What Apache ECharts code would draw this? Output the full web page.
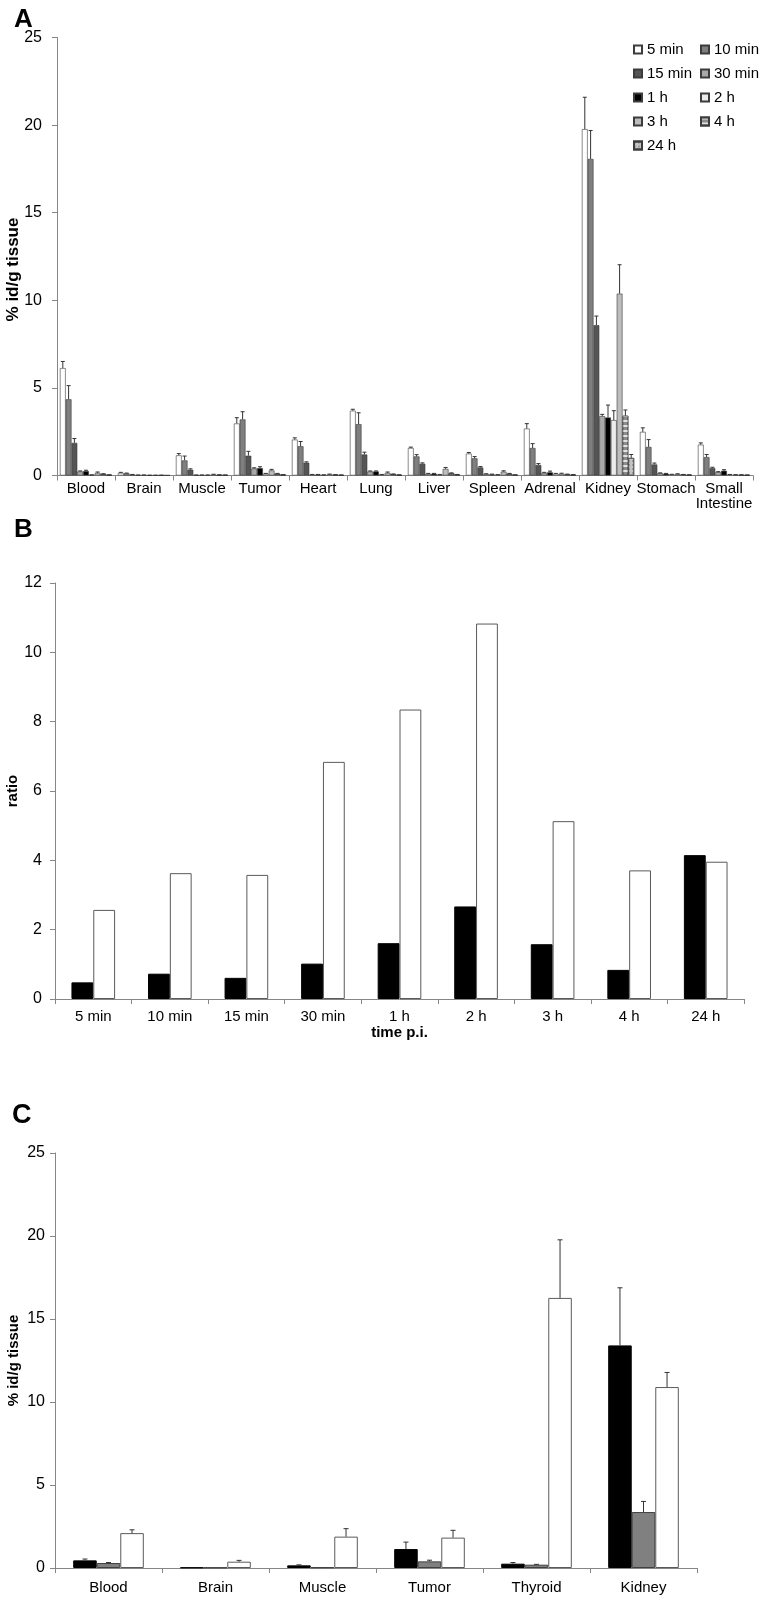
<!DOCTYPE html>
<html><head><meta charset="utf-8">
<script src="https://cdn.jsdelivr.net/npm/echarts@6/dist/echarts.min.js"></script>
<style>html,body{margin:0;padding:0;background:#fff}#c{width:759px;height:1599px}</style>
</head><body><div id="c"></div>
<script>
// ---------- Panel A data ----------
const organsA = ['Blood','Brain','Muscle','Tumor','Heart','Lung','Liver','Spleen','Adrenal','Kidney','Stomach','Small Intestine'];
const timesA = ['5 min','10 min','15 min','30 min','1 h','2 h','3 h','4 h','24 h'];
const a5min  = [6.13, 0.15, 1.15, 2.97, 2.05, 3.70, 1.57, 1.25, 2.68, 19.77, 2.49, 1.76];
const a10min = [4.35, 0.12, 0.86, 3.20, 1.67, 2.93, 1.09, 0.98, 1.57, 18.07, 1.63, 1.05];
const a15min = [1.86, 0.05, 0.33, 1.13, 0.73, 1.20, 0.67, 0.46, 0.60, 8.58, 0.63, 0.42];
const a30min = [0.23, 0.02, 0.02, 0.40, 0.05, 0.23, 0.10, 0.08, 0.15, 3.39, 0.13, 0.19];
const a1h    = [0.25, 0.02, 0.02, 0.42, 0.05, 0.23, 0.10, 0.06, 0.18, 3.31, 0.10, 0.27];
const a2h    = [0.03, 0.01, 0.02, 0.10, 0.03, 0.05, 0.05, 0.04, 0.10, 3.16, 0.06, 0.05];
const a3h    = [0.15, 0.01, 0.05, 0.29, 0.06, 0.15, 0.38, 0.22, 0.10, 10.38, 0.08, 0.04];
const a4h    = [0.08, 0.01, 0.03, 0.10, 0.04, 0.07, 0.12, 0.10, 0.06, 3.41, 0.05, 0.03];
const a24h   = [0.03, 0.01, 0.02, 0.04, 0.02, 0.03, 0.05, 0.03, 0.04, 1.00, 0.03, 0.02];
const e5min  = [0.38, 0.03, 0.10, 0.33, 0.10, 0.08, 0.05, 0.06, 0.28, 1.82, 0.23, 0.10];
const e10min = [0.78, 0.02, 0.25, 0.44, 0.27, 0.65, 0.10, 0.10, 0.25, 1.62, 0.42, 0.15];
const e15min = [0.25, 0.01, 0.05, 0.25, 0.05, 0.13, 0.05, 0.05, 0.08, 0.52, 0.08, 0.05];
const e30min = [0.03, 0.01, 0.01, 0.04, 0.01, 0.03, 0.02, 0.02, 0.03, 0.10, 0.02, 0.03];
const e1h    = [0.05, 0.01, 0.01, 0.08, 0.01, 0.03, 0.02, 0.02, 0.07, 0.71, 0.02, 0.06];
const e2h    = [0.01, 0.01, 0.01, 0.02, 0.01, 0.01, 0.01, 0.01, 0.02, 0.54, 0.01, 0.01];
const e3h    = [0.05, 0.01, 0.02, 0.06, 0.02, 0.05, 0.08, 0.05, 0.03, 1.65, 0.02, 0.01];
const e4h    = [0.02, 0.01, 0.01, 0.02, 0.01, 0.02, 0.03, 0.02, 0.02, 0.33, 0.01, 0.01];
const e24h   = [0.01, 0.00, 0.01, 0.01, 0.01, 0.01, 0.01, 0.01, 0.01, 0.20, 0.01, 0.01];
const yTicksA = [0, 25, 5];

// ---------- Panel B data ----------
const timesB = ['5 min','10 min','15 min','30 min','1 h','2 h','3 h','4 h','24 h'];
const ratioTumorBlood  = [0.48, 0.73, 0.61, 1.02, 1.61, 2.67, 1.58, 0.84, 4.15];
const ratioTumorMuscle = [2.57, 3.63, 3.58, 6.84, 8.35, 10.83, 5.13, 3.71, 3.96];
const yTicksB = [0, 12, 2];

// ---------- Panel C data ----------
const organsC = ['Blood','Brain','Muscle','Tumor','Thyroid','Kidney'];
const cBlack = [0.46, 0.03, 0.16, 1.14, 0.26, 13.41];
const cGray  = [0.30, 0.03, 0.04, 0.40, 0.20, 3.37];
const cWhite = [2.10, 0.38, 1.89, 1.83, 16.27, 10.90];
const ceBlack = [0.08, 0.00, 0.03, 0.42, 0.07, 3.47];
const ceGray  = [0.03, 0.00, 0.00, 0.07, 0.02, 0.64];
const ceWhite = [0.20, 0.08, 0.48, 0.44, 3.50, 0.88];
const yTicksC = [0, 25, 5];

// ---------- build ----------
const FONT = 'Liberation Sans, Arial, sans-serif';
const AXC = '#868686';
const valsA = [a5min,a10min,a15min,a30min,a1h,a2h,a3h,a4h,a24h];
const errsA = [e5min,e10min,e15min,e30min,e1h,e2h,e3h,e4h,e24h];
const styleA = [
  {color:'#ffffff'},
  {color:'#7f7f7f'},
  {color:'#555555'},
  {color:'#a9a9a9'},
  {color:'#000000'},
  {color:'#ececec'},
  {color:'#bdbdbd'},
  {color:'#8c8c8c', decal:{symbol:'rect', symbolSize:1, dashArrayX:[1,0], dashArrayY:[2,3], color:'rgba(255,255,255,0.75)'}},
  {color:'#c4c4c4', decal:{symbol:'circle', symbolSize:0.8, dashArrayX:[2,2], dashArrayY:[2,2], color:'rgba(70,70,70,0.7)'}}
];
const GAP_A = 0.10, GAP_B = 0.43, GAP_C = 0.34;

function errRenderer(idx, count, gap, capHalf) {
  return function (params, api) {
    const cat = api.value(0), val = api.value(1), err = api.value(2);
    if (!(err > 0)) return;
    const band = api.size([1, 0])[0];
    const total = band * (1 - gap);
    const w = total / count;
    const c = api.coord([cat, val]);
    const e = api.coord([cat, val + err]);
    const x = c[0] - total / 2 + w * (idx + 0.5);
    const st = {stroke:'#333333', lineWidth:1};
    return {type:'group', children:[
      {type:'line', shape:{x1:x, y1:c[1], x2:x, y2:e[1]}, style:st},
      {type:'line', shape:{x1:x-capHalf, y1:e[1], x2:x+capHalf, y2:e[1]}, style:st}
    ]};
  };
}

function yAxisCfg(gridIndex, ticks, name, nameSize, nameGap, margin, pad) {
  return {
    type:'value', gridIndex, min:ticks[0], max:ticks[1], interval:ticks[2],
    name, nameLocation:'middle', nameGap, nameMoveOverlap:false,
    nameTextStyle:{fontFamily:FONT, fontSize:nameSize, fontWeight:'bold', color:'#000', padding:pad || 0},
    axisLine:{show:true, lineStyle:{color:AXC, width:1}},
    axisTick:{show:true, length:5, lineStyle:{color:AXC}},
    splitLine:{show:false},
    axisLabel:{fontFamily:FONT, fontSize:16, color:'#000', margin}
  };
}
function xAxisCfg(gridIndex, cats, fontSize, margin, extra) {
  return Object.assign({
    type:'category', gridIndex, data:cats,
    axisLine:{show:true, lineStyle:{color:AXC, width:1}},
    axisTick:{show:true, length:5, lineStyle:{color:AXC}},
    axisLabel:{fontFamily:FONT, fontSize, color:'#000', margin, interval:0}
  }, extra || {});
}

const series = [];
timesA.forEach((t, i) => {
  series.push({
    name:t, type:'bar', xAxisIndex:0, yAxisIndex:0, data:valsA[i],
    barGap:'0%', barCategoryGap:(GAP_A*100)+'%',
    itemStyle:Object.assign({borderColor:'#3c3c3c', borderWidth:0.6}, styleA[i]),
    emphasis:{disabled:true}
  });
});
timesA.forEach((t, i) => {
  series.push({
    type:'custom', xAxisIndex:0, yAxisIndex:0, z:5, silent:true, clip:false,
    renderItem:errRenderer(i, timesA.length, GAP_A, 2),
    encode:{x:0, y:1},
    data:organsA.map((o, j) => [j, valsA[i][j], errsA[i][j]])
  });
});
// Panel B
series.push({name:'tumor/blood', type:'bar', xAxisIndex:1, yAxisIndex:1, data:ratioTumorBlood,
  barGap:'0%', barCategoryGap:(GAP_B*100)+'%', itemStyle:{color:'#000', borderColor:'#000', borderWidth:1}});
series.push({name:'tumor/muscle', type:'bar', xAxisIndex:1, yAxisIndex:1, data:ratioTumorMuscle,
  barGap:'0%', barCategoryGap:(GAP_B*100)+'%', itemStyle:{color:'#fff', borderColor:'#5a5a5a', borderWidth:1}});
// Panel C
const cVals = [cBlack, cGray, cWhite], cErrs = [ceBlack, ceGray, ceWhite];
const cStyles = [{color:'#000', borderColor:'#000'}, {color:'#808080', borderColor:'#404040'}, {color:'#fff', borderColor:'#5a5a5a'}];
['C black','C gray','C white'].forEach((n, i) => {
  series.push({name:n, type:'bar', xAxisIndex:2, yAxisIndex:2, data:cVals[i],
    barGap:'0%', barCategoryGap:(GAP_C*100)+'%', itemStyle:Object.assign({borderWidth:1}, cStyles[i])});
});
['C black','C gray','C white'].forEach((n, i) => {
  series.push({type:'custom', xAxisIndex:2, yAxisIndex:2, z:5, silent:true, clip:false,
    renderItem:errRenderer(i, 3, GAP_C, 2.5), encode:{x:0, y:1},
    data:organsC.map((o, j) => [j, cVals[i][j], cErrs[i][j]])});
});

const legendBase = {orient:'vertical', itemWidth:8, itemHeight:8, itemGap:9, icon:'rect',
  textStyle:{fontFamily:FONT, fontSize:15, color:'#000'}, selectedMode:false};

const option = {
  animation:false,
  backgroundColor:'#fff',
  title:[
    {text:'A', left:9, top:2, textStyle:{fontFamily:FONT, fontSize:26, fontWeight:'bold', color:'#000'}},
    {text:'B', left:9, top:512, textStyle:{fontFamily:FONT, fontSize:26, fontWeight:'bold', color:'#000'}},
    {text:'C', left:7, top:1097, textStyle:{fontFamily:FONT, fontSize:27, fontWeight:'bold', color:'#000'}}
  ],
  legend:[
    Object.assign({}, legendBase, {data:['5 min','15 min','1 h','3 h','24 h'], left:628, top:37}),
    Object.assign({}, legendBase, {data:['10 min','30 min','2 h','4 h'], left:695, top:37})
  ],
  grid:[
    {left:57, top:37.5, width:696, height:438, outerBoundsMode:'none'},
    {left:55, top:583, width:689, height:416, outerBoundsMode:'none'},
    {left:55, top:1153, width:642, height:415, outerBoundsMode:'none'}
  ],
  xAxis:[
    xAxisCfg(0, organsA, 15, 6, {axisLabel:{fontFamily:FONT, fontSize:15, color:'#000', margin:6, interval:0, lineHeight:15,
      formatter:v => v === 'Small Intestine' ? 'Small\nIntestine' : v}}),
    xAxisCfg(1, timesB, 15, 10, {name:'time p.i.', nameLocation:'middle', nameGap:26, nameMoveOverlap:false,
      nameTextStyle:{fontFamily:FONT, fontSize:15, fontWeight:'bold', color:'#000'}}),
    xAxisCfg(2, organsC, 15, 12)
  ],
  yAxis:[
    yAxisCfg(0, yTicksA, '% id/g tissue', 17, 35, 15, [0,26,0,0]),
    yAxisCfg(1, yTicksB, 'ratio', 15, 35, 13),
    yAxisCfg(2, yTicksC, '% id/g tissue', 15, 34, 10)
  ],
  series
};
const chart = echarts.init(document.getElementById('c'), null, {renderer:'canvas'});
chart.setOption(option);
</script></body></html>
